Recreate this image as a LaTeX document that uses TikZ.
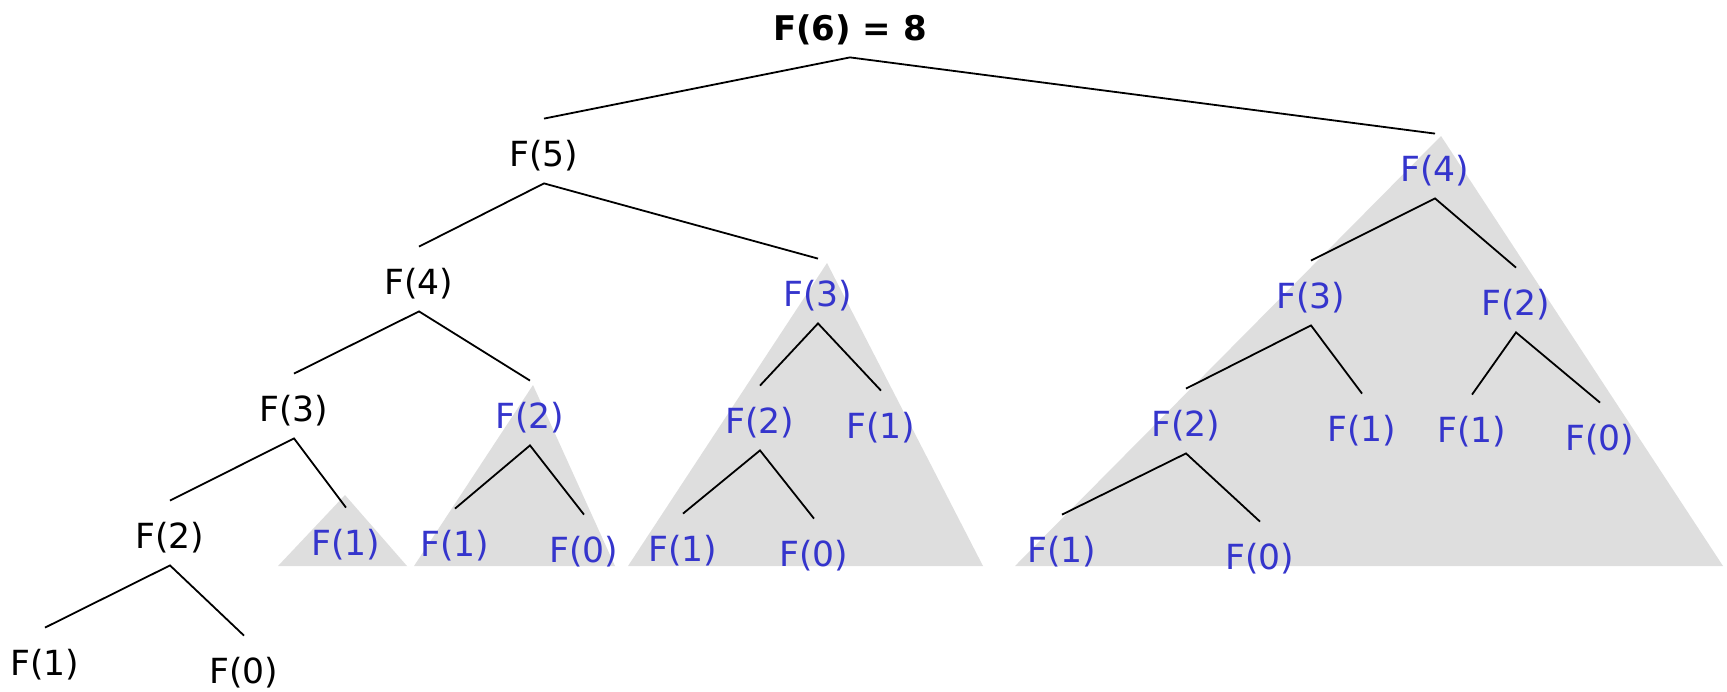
\documentclass[tikz,border=0pt]{standalone}
\usepackage{fontspec}
\setmainfont{DejaVu Sans}
\definecolor{callblue}{HTML}{3535CC}
\definecolor{shade}{HTML}{DEDEDE}
\tikzset{
  call/.style={anchor=base, inner xsep=0pt, inner ysep=0pt,
    text height=23.5pt, text depth=8.5pt, yshift=-1pt,
    font=\fontsize{17.3}{20}\selectfont},
  done/.style={call, text=callblue},
  edge/.style={draw=black, line width=0.9pt},
  subtree/.style={fill=shade, draw=none}
}
\begin{document}
\begin{tikzpicture}[x=0.5pt, y=-0.5pt]
\useasboundingbox (0,0) rectangle (1727,691);

% shaded subtrees whose values were already computed
\path[subtree] (345,495) -- (407,566) -- (278,566) -- cycle;
\path[subtree] (533,385) -- (615,566) -- (414,566) -- cycle;
\path[subtree] (827,263) -- (983,566) -- (628,566) -- cycle;
\path[subtree] (1441,136) -- (1723,566) -- (1015,566) -- cycle;

% root
\node[anchor=base, inner sep=0pt, text depth=8.5pt,
      font=\fontsize{17}{20}\selectfont\bfseries] (f6) at (850,40) {F(6) = 8};

% left spine
\node[call] (f5)  at (544,164) {F(5)};
\node[call] (f4)  at (419,292) {F(4)};
\node[call] (f3)  at (294,419) {F(3)};
\node[call] (f2)  at (170,546) {F(2)};
\node[call] (f1)  at (45,673)  {F(1)};
\node[call] (f0)  at (244,681) {F(0)};

% repeated calls
\node[done] (a1) at (346,553) {F(1)};

\node[done] (b2) at (530,426) {F(2)};
\node[done] (b1) at (455,554) {F(1)};
\node[done] (b0) at (584,560) {F(0)};

\node[done] (c3)  at (818,304) {F(3)};
\node[done] (c2)  at (760,431) {F(2)};
\node[done] (c1)  at (881,436) {F(1)};
\node[done] (c21) at (683,559) {F(1)};
\node[done] (c20) at (814,564) {F(0)};

\node[done] (d4)  at (1435,179) {F(4)};
\node[done] (d3)  at (1311,306) {F(3)};
\node[done] (d2)  at (1516,313) {F(2)};
\node[done] (d32) at (1186,434) {F(2)};
\node[done] (d31) at (1362,439) {F(1)};
\node[done] (d21) at (1472,440) {F(1)};
\node[done] (d20) at (1600,448) {F(0)};
\node[done] (d321) at (1062,560) {F(1)};
\node[done] (d320) at (1260,567) {F(0)};

% calls
\draw[edge] (f5.north) -- (f6.south) -- (d4.north);
\draw[edge] (f4.north) -- (f5.south) -- (c3.north);
\draw[edge] (f3.north) -- (f4.south) -- (b2.north);
\draw[edge] (f2.north) -- (f3.south) -- (a1.north);
\draw[edge] (f1.north) -- (f2.south) -- (f0.north);

\draw[edge] (b1.north) -- (b2.south) -- (b0.north);

\draw[edge] (c2.north) -- (c3.south) -- (c1.north);
\draw[edge] (c21.north) -- (c2.south) -- (c20.north);

\draw[edge] (d3.north) -- (d4.south) -- (d2.north);
\draw[edge] (d32.north) -- (d3.south) -- (d31.north);
\draw[edge] (d21.north) -- (d2.south) -- (d20.north);
\draw[edge] (d321.north) -- (d32.south) -- (d320.north);
\end{tikzpicture}
\end{document}
